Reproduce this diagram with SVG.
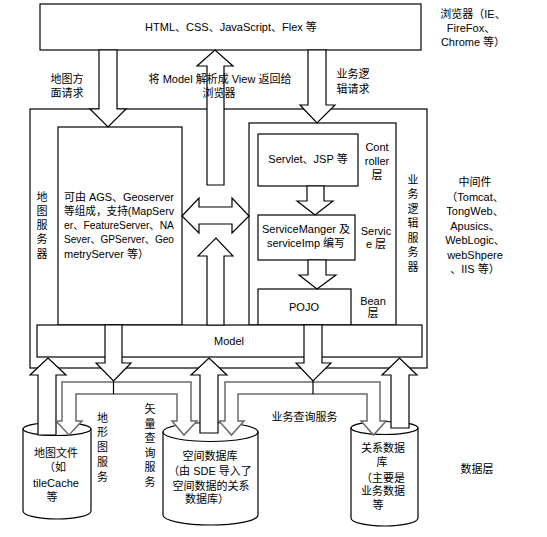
<svg xmlns="http://www.w3.org/2000/svg" width="547" height="537" viewBox="0 0 547 537">
<style>
.box{fill:#fff;stroke:#000;stroke-width:1.2}
.arr{fill:#fff;stroke:#000;stroke-width:1.2;stroke-linejoin:miter}
.pipe{fill:#fff;stroke:#6a6a6a;stroke-width:1.5}
.stem{stroke:#000;stroke-width:1.2}
text{font-family:"Liberation Sans","Noto Sans CJK SC",sans-serif;font-size:11px;fill:#000}
.m{text-anchor:middle}
</style>
<rect width="547" height="537" fill="#fff"/>

<g id="browser">
<rect class="box" x="40" y="4" width="381" height="46"/>
<text class="m" x="231" y="31">HTML、CSS、JavaScript、Flex 等</text>
</g>
<g id="browser-label">
<text class="m" x="473" y="18">浏览器（IE、</text>
<text class="m" x="471" y="32">FireFox、</text>
<text class="m" x="473" y="46">Chrome 等）</text>
</g>

<g id="middleware">
<rect class="box" x="30" y="109" width="397" height="259"/>
</g>
<g id="middleware-label">
<text class="m" x="475" y="186">中间件</text>
<text class="m" x="475" y="201">（Tomcat、</text>
<text class="m" x="475" y="215">TongWeb、</text>
<text class="m" x="475" y="230">Apusics、</text>
<text class="m" x="475" y="244">WebLogic、</text>
<text class="m" x="475" y="259">webShpere</text>
<text class="m" x="475" y="273">、IIS 等）</text>
</g>

<g id="map-server">
<rect class="box" x="58" y="127" width="124" height="198"/>
<text font-size="10.5" x="64" y="201" textLength="110" lengthAdjust="spacingAndGlyphs">可由 AGS、Geoserver</text>
<text font-size="10.5" x="64" y="215" textLength="110" lengthAdjust="spacingAndGlyphs">等组成，支持(MapServ</text>
<text font-size="10.5" x="64" y="229" textLength="110" lengthAdjust="spacingAndGlyphs">er、FeatureServer、NA</text>
<text font-size="10.5" x="64" y="243" textLength="110" lengthAdjust="spacingAndGlyphs">Sever、GPServer、Geo</text>
<text font-size="10.5" x="64" y="258">metryServer 等）</text>
</g>
<g id="map-server-label">
<text class="m" x="42"><tspan x="42" y="201">地</tspan><tspan x="42" y="215">图</tspan><tspan x="42" y="229">服</tspan><tspan x="42" y="243">务</tspan><tspan x="42" y="258">器</tspan></text>
</g>

<g id="business-server">
<rect class="box" x="249" y="123" width="147" height="202"/>
</g>
<g id="business-server-label">
<text class="m" x="413"><tspan x="413" y="184">业</tspan><tspan x="413" y="198">务</tspan><tspan x="413" y="213">逻</tspan><tspan x="413" y="227">辑</tspan><tspan x="413" y="242">服</tspan><tspan x="413" y="256">务</tspan><tspan x="413" y="271">器</tspan></text>
</g>

<g id="servlet">
<rect class="box" x="258" y="134" width="100" height="52"/>
<text class="m" x="308" y="163">Servlet、JSP 等</text>
<text class="m" x="377" y="151">Cont</text>
<text class="m" x="377" y="165">roller</text>
<text class="m" x="377" y="179">层</text>
</g>
<g id="service">
<rect class="box" x="258" y="215" width="97" height="45"/>
<text class="m" x="306" y="233">ServiceManger 及</text>
<text class="m" x="306" y="247">serviceImp 编写</text>
<text class="m" x="376" y="235">Servic</text>
<text class="m" x="376" y="248">e 层</text>
</g>
<g id="pojo">
<rect class="box" x="258" y="289" width="93" height="36"/>
<text class="m" x="304" y="311">POJO</text>
<text class="m" x="373" y="305">Bean</text>
<text class="m" x="373" y="317">层</text>
</g>

<g id="model">
<rect class="box" x="37" y="325" width="385" height="32"/>
<text class="m" x="229" y="345">Model</text>
</g>

<g id="map-file">
<path class="box" d="M23,429 L23,511 A34,8 0 0 0 91,511 L91,429 Z"/>
<ellipse class="box" cx="57" cy="429" rx="34" ry="6.5"/>
<text class="m" x="56" y="457">地图文件</text>
<text class="m" x="55" y="471">（如</text>
<text class="m" x="56" y="487">tileCache</text>
<text class="m" x="52" y="501">等</text>
</g>
<g id="spatial-db">
<path class="box" d="M163,432 L163,515 A47.5,10 0 0 0 258,515 L258,432 Z"/>
<ellipse class="box" cx="210.5" cy="432" rx="47.5" ry="9.5"/>
<text class="m" x="210" y="460">空间数据库</text>
<text class="m" x="210" y="475">（由 SDE 导入了</text>
<text class="m" x="211" y="490">空间数据的关系</text>
<text class="m" x="207" y="503">数据库）</text>
</g>
<g id="relational-db">
<path class="box" d="M351,428 L351,518 A33.5,8 0 0 0 418,518 L418,428 Z"/>
<ellipse class="box" cx="384.5" cy="428" rx="33.5" ry="6.5"/>
<text class="m" x="383" y="452">关系数据</text>
<text class="m" x="382" y="466">库</text>
<text class="m" x="383" y="482">（主要是</text>
<text class="m" x="383" y="495">业务数据</text>
<text class="m" x="378" y="509">等</text>
</g>
<g id="data-layer-label">
<text class="m" x="477" y="473">数据层</text>
</g>

<g id="connectors">
<polygon class="arr" points="99,50 117,50 117,109 126,109 108,127 90,109 99,109"/>
<polygon class="arr" points="207,185 207,66 197,66 215,50 233,66 224,66 224,185"/>
<polygon class="arr" points="308,50 326,50 326,105 335,105 317,123 300,105 308,105"/>
<polygon class="arr" points="182,216 199,198 199,207 232,207 232,198 249,216 232,233 232,224 199,224 199,233"/>
<polygon class="arr" points="207,325 207,256 198,256 216,238 233,256 224,256 224,325"/>
<polygon class="arr" points="307,186 324,186 324,201 333,201 315,215 297,201 307,201"/>
<polygon class="arr" points="308,260 326,260 326,275 336,275 317,289 299,275 308,275"/>
<polygon class="arr" points="105,325 122,325 122,363 131,363 113.5,381 96,363 105,363"/>
<polygon class="arr" points="304,325 322,325 322,363 331,363 313,381 296,363 304,363"/>
<polygon class="arr" points="38,435 38,375 30,375 48,358 66,375 56,375 56,435"/>
<polygon class="arr" points="200,433 200,375 191,375 209,358 227,375 218,375 218,433"/>
<polygon class="arr" points="391,428 391,375 382,375 399.5,358 417,375 409,375 409,428"/>
<path class="pipe" d="M76,421 L76,394 L177,394 L177,421 L172,421 L184,435 L197,421 L191,421 L191,382 L62,382 L62,421 L56,421 L69,435 L82,421 Z"/>
<path class="pipe" d="M238,421 L238,394 L367,394 L367,421 L361,421 L373.5,435 L386,421 L380,421 L380,382 L225,382 L225,421 L219,421 L231.5,435 L244,421 Z"/>
<line class="stem" x1="113.5" y1="381" x2="113.5" y2="394"/>
<line class="stem" x1="313" y1="381" x2="313" y2="394" stroke-width="2.2"/>
</g>

<g id="connector-labels">
<text class="m" x="67" y="83">地图方</text>
<text class="m" x="67" y="97">面请求</text>
<text class="m" x="220" y="83">将 Model 解析成 View 返回给</text>
<text class="m" x="219" y="97">浏览器</text>
<text class="m" x="353" y="78">业务逻</text>
<text class="m" x="353" y="93">辑请求</text>
<text class="m" x="102.5"><tspan x="102.5" y="422">地</tspan><tspan x="102.5" y="436">形</tspan><tspan x="102.5" y="451">图</tspan><tspan x="102.5" y="466">服</tspan><tspan x="102.5" y="481">务</tspan></text>
<text class="m" x="150"><tspan x="150" y="413">矢</tspan><tspan x="150" y="428">量</tspan><tspan x="150" y="442">查</tspan><tspan x="150" y="457">询</tspan><tspan x="150" y="471">服</tspan><tspan x="150" y="486">务</tspan></text>
<text class="m" x="304.5" y="421">业务查询服务</text>
</g>
</svg>
